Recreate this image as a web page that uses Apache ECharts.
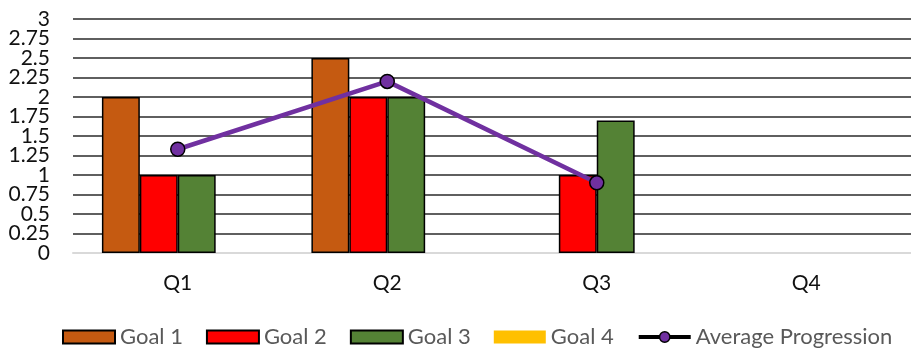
<!DOCTYPE html>
<html>
<head>
<meta charset="utf-8">
<script src="https://cdn.jsdelivr.net/npm/echarts@6/dist/echarts.min.js"></script>
<style>
  html, body { margin: 0; padding: 0; background: #fff; }
  #chart { width: 911px; height: 350px; }
</style>
</head>
<body>
<div id="chart"></div>
<script>
// Quarterly goal scores and their average
const quarters = ['Q1', 'Q2', 'Q3', 'Q4'];
const goal1 = [2, 2.5, null, null];
const goal2 = [1, 2, 1, null];
const goal3 = [1, 2, 1.7, null];
const goal4 = [null, null, null, null];
const averageProgression = [1.33, 2.2, 0.9, null];

// Value scale
const Y_MIN = 0;
const Y_MAX = 3;
const Y_STEP = 0.25;

const FONT = 'Lato';

const chart = echarts.init(document.getElementById('chart'), null, { renderer: 'canvas' });

function barSeries(name, data, color, bordered) {
  return {
    name: name,
    type: 'bar',
    data: data,
    barGap: '0%',
    barCategoryGap: '27.6%',
    itemStyle: {
      color: color,
      borderColor: bordered ? '#000' : color,
      borderWidth: bordered ? 1.5 : 0
    },
    emphasis: { disabled: true }
  };
}

const yLabelStyle = { fontFamily: FONT, fontSize: 21, color: '#111', margin: 23 };

chart.setOption({
  animation: false,
  backgroundColor: '#fff',
  grid: { left: 73, top: 19, width: 840, height: 234, containLabel: false },
  legend: {
    left: 62,
    top: 326,
    padding: 0,
    itemWidth: 52,
    itemHeight: 13,
    itemGap: 23,
    textStyle: { fontFamily: FONT, fontSize: 22, color: '#595959' },
    data: [
      { name: 'Goal 1', icon: 'rect' },
      { name: 'Goal 2', icon: 'rect' },
      { name: 'Goal 3', icon: 'rect' },
      { name: 'Goal 4', icon: 'rect' },
      {
        name: 'Average Progression',
        lineStyle: { color: '#000', width: 4 },
        itemStyle: { color: '#7030A0', borderColor: '#000', borderWidth: 1.5 }
      }
    ]
  },
  xAxis: {
    type: 'category',
    data: quarters,
    axisLine: { show: true, lineStyle: { color: '#d9d9d9', width: 2 } },
    axisTick: { show: false },
    axisLabel: { fontFamily: FONT, fontSize: 21, color: '#111', margin: 20 },
    splitLine: { show: false }
  },
  yAxis: [
    {
      // main scale: inner tick labels and gridlines
      type: 'value',
      position: 'left',
      min: Y_MIN,
      max: Y_MAX,
      interval: Y_STEP,
      axisLine: { show: false },
      axisTick: { show: false },
      axisLabel: Object.assign({ showMinLabel: false, showMaxLabel: false }, yLabelStyle),
      splitLine: { show: true, lineStyle: { color: '#5f5f5f', width: 2 } }
    },
    {
      // same scale, carrying only the end labels
      type: 'value',
      position: 'left',
      offset: 0,
      min: Y_MIN,
      max: Y_MAX,
      interval: Y_STEP,
      axisLine: { show: false },
      axisTick: { show: false },
      axisLabel: Object.assign({
        showMinLabel: true,
        showMaxLabel: true,
        formatter: function (v) { return (v === Y_MIN || v === Y_MAX) ? String(v) : ''; }
      }, yLabelStyle),
      splitLine: { show: false }
    }
  ],
  series: [
    barSeries('Goal 1', goal1, '#C55A11', true),
    barSeries('Goal 2', goal2, '#FF0000', true),
    barSeries('Goal 3', goal3, '#548235', true),
    barSeries('Goal 4', goal4, '#FFC000', false),
    {
      name: 'Average Progression',
      type: 'line',
      data: averageProgression,
      z: 5,
      symbol: 'circle',
      symbolSize: 14,
      lineStyle: { color: '#7030A0', width: 4.5 },
      itemStyle: { color: '#7030A0', borderColor: '#000', borderWidth: 1.5 },
      emphasis: { disabled: true }
    }
  ]
});
</script>
</body>
</html>
